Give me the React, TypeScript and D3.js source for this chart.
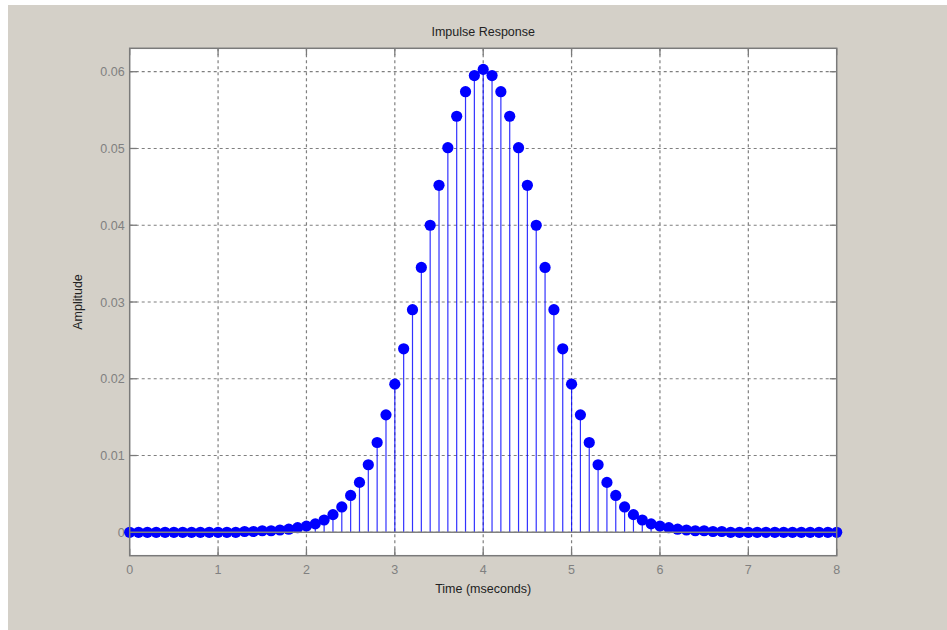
import React from "react";
import * as d3 from "d3";

const times = [
  0.0, 0.1, 0.2, 0.3, 0.4, 0.5, 0.6, 0.7, 0.8, 0.9,
  1.0, 1.1, 1.2, 1.3, 1.4, 1.5, 1.6, 1.7, 1.8, 1.9,
  2.0, 2.1, 2.2, 2.3, 2.4, 2.5, 2.6, 2.7, 2.8, 2.9,
  3.0, 3.1, 3.2, 3.3, 3.4, 3.5, 3.6, 3.7, 3.8, 3.9,
  4.0, 4.1, 4.2, 4.3, 4.4, 4.5, 4.6, 4.7, 4.8, 4.9,
  5.0, 5.1, 5.2, 5.3, 5.4, 5.5, 5.6, 5.7, 5.8, 5.9,
  6.0, 6.1, 6.2, 6.3, 6.4, 6.5, 6.6, 6.7, 6.8, 6.9,
  7.0, 7.1, 7.2, 7.3, 7.4, 7.5, 7.6, 7.7, 7.8, 7.9,
  8.0,
];

const amplitudes = [
  0.0000, 0.0000, 0.0000, 0.0000, 0.0000, 0.0000, 0.0000, 0.0000, 0.0000, 0.0000,
  0.0000, 0.0000, 0.0000, 0.0001, 0.0001, 0.0002, 0.0002, 0.0003, 0.0004, 0.0006,
  0.0008, 0.0011, 0.0016, 0.0023, 0.0033, 0.0048, 0.0065, 0.0088, 0.0117, 0.0153,
  0.0193, 0.0239, 0.0290, 0.0345, 0.0400, 0.0452, 0.0501, 0.0542, 0.0574, 0.0595,
  0.0603, 0.0595, 0.0574, 0.0542, 0.0501, 0.0452, 0.0400, 0.0345, 0.0290, 0.0239,
  0.0193, 0.0153, 0.0117, 0.0088, 0.0065, 0.0048, 0.0033, 0.0023, 0.0016, 0.0011,
  0.0008, 0.0006, 0.0004, 0.0003, 0.0002, 0.0002, 0.0001, 0.0001, 0.0000, 0.0000,
  0.0000, 0.0000, 0.0000, 0.0000, 0.0000, 0.0000, 0.0000, 0.0000, 0.0000, 0.0000,
  0.0000,
];

const xTicks = [0, 1, 2, 3, 4, 5, 6, 7, 8];
const yTicks = [0, 0.01, 0.02, 0.03, 0.04, 0.05, 0.06];
const yTickLabels = ["0", "0.01", "0.02", "0.03", "0.04", "0.05", "0.06"];

const title = "Impulse Response";
const xLabel = "Time (mseconds)";
const yLabel = "Amplitude";

export default function App() {
  const W = 947, H = 630;
  const left = 129.7, right = 836.7, top = 48.3, bottom = 555.7;
  const x = d3.scaleLinear().domain([0, 8]).range([left, right]);
  const y = d3.scaleLinear().domain([-0.00305, 0.06305]).range([bottom, top]);
  const font = "'Liberation Sans', Arial, sans-serif";
  const axisColor = "#7a7a7a";
  const gridColor = "#7f7f7f";
  const stemColor = "#0000ff";
  const data = times.map((t, i) => ({ t, v: amplitudes[i] }));

  return (
    <svg width={W} height={H} style={{ position: "absolute", left: 0, top: 0 }}>
      <rect x={8} y={5} width={W - 8} height={H - 5} fill="#d4d0c8" />
      <rect x={left} y={top} width={right - left} height={bottom - top} fill="#ffffff" />
      {/* grid */}
      {xTicks.slice(1, -1).map((t) => (
        <line key={"gx" + t} x1={x(t)} x2={x(t)} y1={top} y2={bottom}
          stroke={gridColor} strokeWidth={1.2} strokeDasharray="3,3" />
      ))}
      {yTicks.map((t) => (
        <line key={"gy" + t} x1={left} x2={right} y1={y(t)} y2={y(t)}
          stroke={gridColor} strokeWidth={1.2} strokeDasharray="3,3" />
      ))}
      {/* ticks inward */}
      {xTicks.map((t) => (
        <g key={"tx" + t}>
          <line x1={x(t)} x2={x(t)} y1={bottom} y2={bottom - 7} stroke={axisColor} strokeWidth={1.3} />
          <line x1={x(t)} x2={x(t)} y1={top} y2={top + 7} stroke={axisColor} strokeWidth={1.3} />
          <text x={x(t)} y={bottom + 18} textAnchor="middle" fontFamily={font}
            fontSize={12.5} fill="#808080">{t}</text>
        </g>
      ))}
      {yTicks.map((t, i) => (
        <g key={"ty" + t}>
          <line x1={left} x2={left + 7} y1={y(t)} y2={y(t)} stroke={axisColor} strokeWidth={1.3} />
          <line x1={right} x2={right - 7} y1={y(t)} y2={y(t)} stroke={axisColor} strokeWidth={1.3} />
          <text x={left - 5} y={y(t) + 4.5} textAnchor="end" fontFamily={font}
            fontSize={12.5} fill="#808080">{yTickLabels[i]}</text>
        </g>
      ))}
      {/* stems */}
      {data.map((d) => (
        <line key={"s" + d.t} x1={x(d.t)} x2={x(d.t)} y1={y(0)} y2={y(d.v)}
          stroke={stemColor} strokeWidth={1.2} opacity={0.8} />
      ))}
      {data.map((d) => (
        <circle key={"c" + d.t} cx={x(d.t)} cy={y(d.v)} r={5.6} fill={stemColor} />
      ))}
      {/* baseline */}
      <line x1={left} x2={right} y1={y(0)} y2={y(0)} stroke="#808080" strokeWidth={1.5} />
      {/* box */}
      <rect x={left} y={top} width={right - left} height={bottom - top} fill="none"
        stroke={axisColor} strokeWidth={1.5} />
      <text x={(left + right) / 2} y={36} textAnchor="middle" fontFamily={font}
        fontSize={12.5} fill="#222">{title}</text>
      <text x={(left + right) / 2} y={593} textAnchor="middle" fontFamily={font}
        fontSize={12.5} fill="#222">{xLabel}</text>
      <text transform={`translate(82, ${(top + bottom) / 2}) rotate(-90)`} textAnchor="middle"
        fontFamily={font} fontSize={12.5} fill="#222">{yLabel}</text>
    </svg>
  );
}
